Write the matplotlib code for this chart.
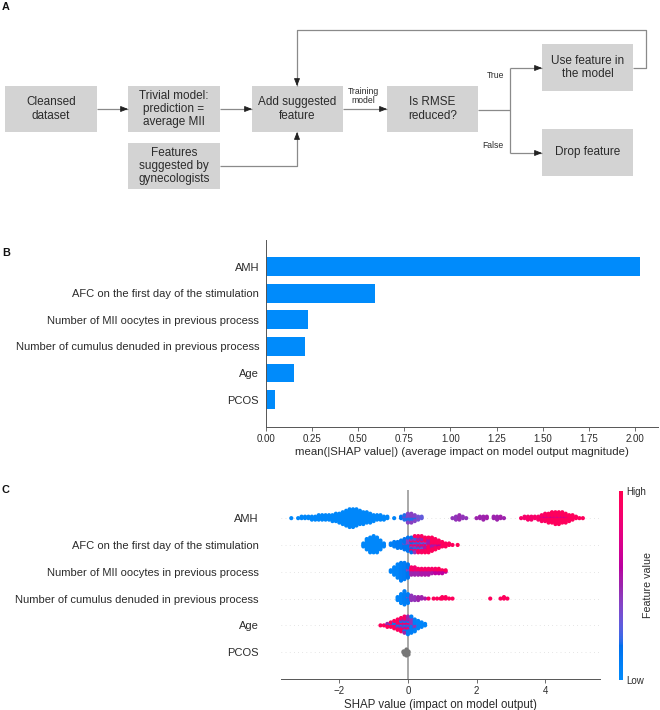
import numpy as np
import matplotlib
matplotlib.use("Agg")
import matplotlib.pyplot as plt
from matplotlib.colors import LinearSegmentedColormap
from matplotlib.patches import Rectangle
import matplotlib as mpl

plt.rcParams['font.family'] = ['Liberation Sans', 'DejaVu Sans']
plt.rcParams['axes.unicode_minus'] = True

# ---------------- data ----------------
features = ["AMH",
            "AFC on the first day of the stimulation",
            "Number of MII oocytes in previous process",
            "Number of cumulus denuded in previous process",
            "Age",
            "PCOS"]
mean_abs_shap = [2.027, 0.59, 0.23, 0.21, 0.152, 0.049]
bar_ticks = [0.00, 0.25, 0.50, 0.75, 1.00, 1.25, 1.50, 1.75, 2.00]
swarm_ticks = [-2, 0, 2, 4]

# beeswarm bins: (SHAP value, number of points, feature value 0..1 ; None = no value)
amh_bins = [(-3.4, 1, 0.03), (-3.2, 1, 0.03), (-3.1, 2, 0.03), (-3.0, 2, 0.03), (-2.9, 2, 0.03),
            (-2.8, 3, 0.03), (-2.7, 3, 0.03), (-2.6, 4, 0.03), (-2.5, 4, 0.03), (-2.4, 4, 0.03),
            (-2.3, 4, 0.03), (-2.2, 5, 0.03), (-2.1, 6, 0.03), (-2.0, 7, 0.03), (-1.9, 9, 0.03),
            (-1.8, 11, 0.03), (-1.7, 13, 0.03), (-1.6, 13, 0.03), (-1.5, 12, 0.03), (-1.4, 10, 0.03),
            (-1.3, 9, 0.03), (-1.2, 8, 0.03), (-1.1, 7, 0.03), (-1.0, 5, 0.03), (-0.9, 4, 0.03),
            (-0.8, 4, 0.03), (-0.7, 3, 0.03), (-0.6, 2, 0.03), (-0.4, 1, 0.05),
            (-0.2, 2, 0.15), (-0.1, 3, 0.2), (-0.1, 1, 0.4), (0.0, 3, 0.2), (0.0, 4, 0.4),
            (0.1, 3, 0.2), (0.1, 4, 0.42), (0.2, 2, 0.2), (0.2, 3, 0.4), (0.3, 3, 0.35), (0.4, 2, 0.3),
            (1.3, 1, 0.45), (1.4, 3, 0.45), (1.5, 4, 0.48), (1.6, 2, 0.45), (1.7, 1, 0.45),
            (2.0, 1, 0.5), (2.1, 2, 0.5), (2.2, 3, 0.5), (2.3, 2, 0.52), (2.5, 2, 0.5),
            (2.6, 3, 0.5), (2.7, 2, 0.52), (2.8, 1, 0.5),
            (3.3, 1, 0.9), (3.4, 2, 0.88), (3.5, 3, 0.9), (3.6, 3, 0.88), (3.7, 2, 0.9),
            (3.8, 3, 0.9), (3.9, 4, 0.92), (3.9, 1, 0.7), (4.0, 5, 0.92), (4.0, 1, 0.65),
            (4.1, 6, 0.95), (4.1, 1, 0.7), (4.2, 7, 0.95), (4.2, 1, 0.65), (4.3, 8, 0.95),
            (4.3, 1, 0.7), (4.4, 8, 0.95), (4.4, 1, 0.7), (4.5, 7, 0.95), (4.5, 1, 0.65),
            (4.6, 6, 0.95), (4.6, 1, 0.7), (4.7, 5, 0.95), (4.8, 4, 0.95), (4.9, 2, 0.95),
            (5.0, 1, 0.95), (5.1, 1, 0.95)]
afc_bins = [(-1.3, 3, 0.03), (-1.2, 8, 0.03), (-1.1, 11, 0.03), (-1.0, 12, 0.03), (-0.9, 11, 0.03),
            (-0.8, 7, 0.03), (-0.7, 3, 0.05),
            (-0.5, 2, 0.08), (-0.4, 4, 0.1), (-0.3, 5, 0.12), (-0.2, 6, 0.12), (-0.1, 7, 0.15),
            (-0.1, 1, 0.4), (0.0, 6, 0.15), (0.0, 4, 0.4), (0.1, 5, 0.18), (0.1, 3, 0.45),
            (0.1, 3, 0.9), (0.2, 4, 0.2), (0.2, 4, 0.45), (0.2, 4, 0.9), (0.3, 3, 0.2),
            (0.3, 4, 0.5), (0.3, 5, 0.92), (0.4, 3, 0.25), (0.4, 4, 0.5), (0.4, 5, 0.92),
            (0.5, 2, 0.3), (0.5, 3, 0.55), (0.5, 6, 0.95), (0.6, 1, 0.3), (0.6, 4, 0.55),
            (0.6, 6, 0.95), (0.7, 3, 0.55), (0.7, 7, 0.95), (0.8, 2, 0.55), (0.8, 6, 0.95),
            (0.9, 2, 0.6), (0.9, 4, 0.95), (1.0, 1, 0.6), (1.0, 3, 0.95), (1.1, 3, 0.95),
            (1.2, 2, 0.95), (1.3, 1, 0.95), (1.45, 1, 0.98)]
mii_bins = [(-0.5, 2, 0.05), (-0.4, 6, 0.05), (-0.3, 10, 0.05), (-0.2, 13, 0.08), (-0.1, 12, 0.1),
            (0.0, 8, 0.15), (0.0, 2, 0.4),
            (0.1, 3, 0.5), (0.1, 3, 0.9), (0.2, 3, 0.5), (0.2, 3, 0.85), (0.3, 3, 0.5),
            (0.3, 2, 0.9), (0.4, 3, 0.55), (0.4, 2, 0.9), (0.5, 3, 0.55), (0.5, 2, 0.9),
            (0.6, 3, 0.55), (0.6, 2, 0.9), (0.7, 2, 0.55), (0.7, 2, 0.9), (0.8, 2, 0.6),
            (0.8, 2, 0.9), (0.9, 2, 0.6), (0.9, 2, 0.95), (1.0, 2, 0.6), (1.0, 1, 0.95),
            (1.1, 1, 0.6), (1.1, 1, 0.95)]
cum_bins = [(-0.3, 3, 0.05), (-0.2, 7, 0.05), (-0.1, 10, 0.08), (0.0, 6, 0.1), (0.0, 1, 0.4),
            (0.1, 4, 0.45), (0.2, 3, 0.45), (0.3, 3, 0.5), (0.4, 2, 0.5), (0.5, 1, 0.55),
            (0.6, 1, 0.9), (0.75, 1, 0.95), (0.85, 1, 0.95), (0.95, 1, 0.95), (1.0, 2, 0.95),
            (1.1, 2, 0.95), (1.2, 1, 0.95), (1.3, 1, 0.95),
            (2.4, 1, 0.95), (2.7, 1, 0.95), (2.8, 2, 0.95), (2.9, 1, 0.95)]
age_bins = [(-0.8, 1, 0.95), (-0.7, 1, 0.95), (-0.6, 2, 0.95), (-0.6, 1, 0.5), (-0.5, 3, 0.95),
            (-0.5, 1, 0.1), (-0.4, 4, 0.95), (-0.4, 2, 0.1), (-0.3, 5, 0.95), (-0.3, 2, 0.5),
            (-0.3, 1, 0.1), (-0.2, 5, 0.92), (-0.2, 3, 0.5), (-0.2, 2, 0.1), (-0.1, 5, 0.9),
            (-0.1, 4, 0.5), (-0.1, 3, 0.1), (0.0, 3, 0.9), (0.0, 5, 0.5), (0.0, 5, 0.1),
            (0.1, 1, 0.9), (0.1, 5, 0.45), (0.1, 6, 0.08), (0.2, 3, 0.45), (0.2, 6, 0.06),
            (0.3, 1, 0.4), (0.3, 5, 0.05), (0.4, 4, 0.05), (0.5, 2, 0.05)]
pcos_bins = [(-0.15, 2, None), (-0.1, 3, None), (-0.05, 5, None), (0.0, 3, None)]
swarm_bins = [amh_bins, afc_bins, mii_bins, cum_bins, age_bins, pcos_bins]

# ---------------- shap red-blue colormap (LCH interpolation) ----------------
def lch_to_rgb(L, C, h):
    a, b = C * np.cos(h), C * np.sin(h)
    fy = (L + 16) / 116.0
    fx, fz = fy + a / 500.0, fy - b / 200.0
    def finv(t):
        return t ** 3 if t > 6 / 29 else 3 * (6 / 29) ** 2 * (t - 4 / 29)
    X, Y, Z = 0.95047 * finv(fx), finv(fy), 1.08883 * finv(fz)
    M = np.array([[3.2406, -1.5372, -0.4986], [-0.9689, 1.8758, 0.0415], [0.0557, -0.2040, 1.0570]])
    lin = M @ np.array([X, Y, Z])
    rgb = np.where(lin > 0.0031308, 1.055 * np.abs(lin) ** (1 / 2.4) - 0.055, 12.92 * lin)
    return np.clip(rgb, 0, 1)

nsteps = 100
blue_lch = [54., 70., 4.6588]
red_lch = [54., 90., 0.35470565 + 2 * np.pi]
l_vals = list(np.linspace(blue_lch[0], 40., nsteps // 2)) + list(np.linspace(40., red_lch[0], nsteps // 2))
c_vals = np.linspace(blue_lch[1], red_lch[1], nsteps)
h_vals = np.linspace(blue_lch[2], red_lch[2], nsteps)
cm_colors = [lch_to_rgb(l, c, h) for l, c, h in zip(l_vals, c_vals, h_vals)]
red_blue = LinearSegmentedColormap.from_list("red_blue", cm_colors)

# ---------------- figure ----------------
W, H = 660, 710
fig = plt.figure(figsize=(W / 100, H / 100), dpi=100)

ov = fig.add_axes([0, 0, 1, 1])
ov.set_xlim(0, W)
ov.set_ylim(H, 0)
ov.axis('off')

TXT = '#2b2b2b'
LINE = '#8a8a8a'
BOX = '#d3d3d3'
LAB = 8.0
TICK = 7.0

# Panel labels
for lab, yy in [("A", 7), ("B", 253), ("C", 490)]:
    ov.text(2, yy, lab, fontsize=7.8, fontweight='bold', ha='left', va='center', color='#111111')

# Flowchart boxes: (x0, y0, x1, y1, text)
boxes = [(5, 86, 97, 132, "Cleansed\ndataset"),
         (128, 86, 220, 132, "Trivial model:\nprediction =\naverage MII"),
         (128, 143, 220, 189, "Features\nsuggested by\ngynecologists"),
         (252, 86, 343, 132, "Add suggested\nfeature"),
         (387, 86, 478, 132, "Is RMSE\nreduced?"),
         (542, 44, 633, 91, "Use feature in\nthe model"),
         (542, 129, 633, 176, "Drop feature")]
for x0, y0, x1, y1, t in boxes:
    ov.add_patch(Rectangle((x0, y0), x1 - x0, y1 - y0, facecolor=BOX, edgecolor='none'))
    ov.text((x0 + x1) / 2, (y0 + y1) / 2, t, ha='center', va='center', fontsize=8.5,
            color=TXT, linespacing=1.12)

def path(pts, arrow=True):
    xs, ys = zip(*pts)
    ov.plot(xs, ys, color=LINE, lw=0.9, solid_capstyle='butt')
    if arrow:
        (xa, ya), (xb, yb) = pts[-2], pts[-1]
        d = np.hypot(xb - xa, yb - ya)
        ux, uy = (xb - xa) / d, (yb - ya) / d
        ov.annotate('', xy=(xb, yb), xytext=(xb - 6 * ux, yb - 6 * uy),
                    arrowprops=dict(arrowstyle='-|>,head_length=0.45,head_width=0.18',
                                    color='#222222', lw=0.6, shrinkA=0, shrinkB=0))

path([(97, 109), (128, 109)])
path([(220, 109), (252, 109)])
path([(343, 109), (387, 109)])
path([(220, 166), (297, 166), (297, 132)])
path([(478, 110), (510, 110)], arrow=False)
path([(510, 68), (510, 153)], arrow=False)
path([(510, 68), (542, 68)])
path([(510, 153), (542, 153)])
path([(633, 68), (646, 68), (646, 30), (297, 30), (297, 86)])
ov.text(363, 96, "Training\nmodel", ha='center', va='center', fontsize=6.2, color=TXT, linespacing=1.1)
ov.text(496, 76, "True", ha='center', va='center', fontsize=6.2, color=TXT)
ov.text(493, 145, "False", ha='center', va='center', fontsize=6.2, color=TXT)

# ---------------- Panel B ----------------
n = len(features)
ypos = np.arange(n)[::-1]
axB = fig.add_axes([266 / W, 1 - 427 / H, (658 - 266) / W, (427 - 240) / H])
axB.barh(ypos, mean_abs_shap, height=0.7, color='#008bfb', align='center')
axB.set_yticks(ypos)
axB.set_yticklabels(features, fontsize=LAB, color=TXT)
axB.set_ylim(-1.03, 6.0)
axB.set_xlim(0, 2.125)
axB.set_xticks(bar_ticks)
axB.set_xticklabels(["%.2f" % t for t in bar_ticks])
for s in ['top', 'right']:
    axB.spines[s].set_visible(False)
for s in ['left', 'bottom']:
    axB.spines[s].set_color('#555555')
    axB.spines[s].set_linewidth(0.7)
axB.tick_params(axis='y', length=0, pad=5)
axB.tick_params(axis='x', length=3, width=0.6, labelsize=TICK, colors='#555555', labelcolor=TXT, pad=2)
axB.set_xlabel("mean(|SHAP value|) (average impact on model output magnitude)", fontsize=8.2,
               color=TXT, labelpad=2.5)

# ---------------- Panel C ----------------
axC = fig.add_axes([281 / W, 1 - 679 / H, (600 - 281) / W, (679 - 490) / H])
dy = 0.055
for i, bins in enumerate(swarm_bins):
    row = n - 1 - i
    axC.axhline(row, color='#cccccc', lw=0.5, dashes=(1, 5), zorder=-1)
    groups = {}
    for x, cnt, fv in bins:
        groups.setdefault(x, []).append([fv] * cnt)
    xs, ys, cs, gx, gy = [], [], [], [], []
    for x, glist in groups.items():
        seq = []
        k = 0
        while any(glist):
            g = glist[k % len(glist)]
            if g:
                seq.append(g.pop())
            k += 1
        for j, fv in enumerate(seq):
            layer = (j + 1) // 2 * (1 if j % 2 else -1)
            if fv is None:
                gx.append(x); gy.append(row + layer * dy)
            else:
                xs.append(x); ys.append(row + layer * dy); cs.append(fv)
    if gx:
        axC.scatter(gx, gy, s=9, color='#777777', linewidth=0, zorder=3)
    if xs:
        axC.scatter(xs, ys, s=9, c=cs, cmap=red_blue, vmin=0, vmax=1, linewidth=0, zorder=3)
axC.axvline(0, color='#999999', lw=1.2, zorder=-1)
axC.set_xlim(-3.7, 5.6)
axC.set_ylim(-1.0, 6.05)
axC.set_yticks(ypos)
axC.set_yticklabels(features, fontsize=LAB, color=TXT)
axC.set_xticks(swarm_ticks)
for s in ['top', 'right', 'left']:
    axC.spines[s].set_visible(False)
axC.spines['bottom'].set_color('#555555')
axC.spines['bottom'].set_linewidth(0.7)
axC.tick_params(axis='y', length=0, pad=16)
axC.tick_params(axis='x', length=3, width=0.6, labelsize=TICK, colors='#555555', labelcolor=TXT, pad=2)
axC.set_xlabel("SHAP value (impact on model output)", fontsize=8.3, color=TXT, labelpad=2.5)

# colorbar
cax = fig.add_axes([619 / W, 1 - 680 / H, 4 / W, (680 - 491) / H])
cb = mpl.colorbar.ColorbarBase(cax, cmap=red_blue, norm=mpl.colors.Normalize(0, 1), ticks=[0, 1])
cb.set_ticklabels(["Low", "High"])
cb.outline.set_visible(False)
cax.tick_params(labelsize=TICK, length=0, pad=2, labelcolor=TXT)
cb.set_label("Feature value", size=7.7, labelpad=-2, color=TXT)

fig.savefig("out.png", dpi=100)
